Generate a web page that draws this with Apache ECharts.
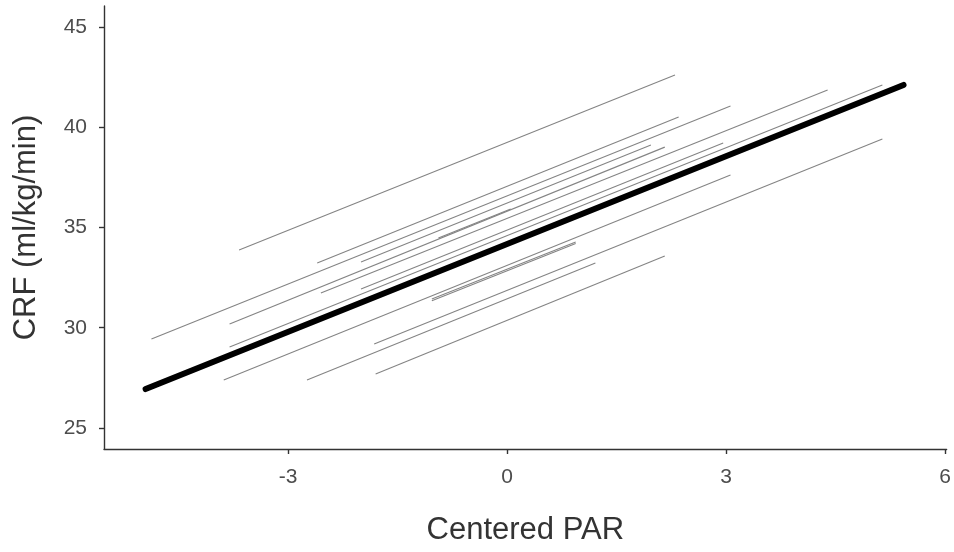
<!DOCTYPE html>
<html>
<head>
<meta charset="utf-8">
<title>CRF vs Centered PAR</title>
<script src="https://cdn.jsdelivr.net/npm/echarts@6/dist/echarts.min.js"></script>
<style>
    html, body { margin: 0; padding: 0; background: #fff; }
    #chart { width: 954px; height: 552px; }
</style>
</head>
<body>
<div id="chart"></div>
<script>
// tick labels
var xTicks = [-3, 0, 3, 6];
var yTicks = [25, 30, 35, 40, 45];

// individual (per-subject) lines: start and end points
var startX = [-3.67, -4.87, -2.60, -2.55, -2.00, -3.80, -2.00, -3.88, -3.80, -1.82, -1.80, -2.74, -1.03, -1.03, -0.94];
var startY = [33.88, 29.44, 33.23, 31.73, 33.28, 30.19, 31.93, 27.39, 29.04, 29.19, 27.69, 27.39, 31.43, 31.35, 34.48];
var endX   = [2.30, 3.06, 2.35, 4.39, 1.97, 2.16, 2.96, 3.06, 5.14, 5.14, 2.16, 1.21, 0.94, 0.94, 0.05];
var endY   = [42.61, 41.06, 40.51, 41.86, 39.11, 39.01, 39.21, 37.62, 42.11, 39.41, 33.58, 33.23, 34.28, 34.20, 35.92];

// overall (fixed effect) line
var fixedX = [-4.95, 5.43];
var fixedY = [26.94, 42.11];

var chart = echarts.init(document.getElementById('chart'));

var series = [];
//灰色的个体线
for (var i = 0; i < startX.length; i++) {
    series.push({
        type: 'line',
        data: [[startX[i], startY[i]], [endX[i], endY[i]]],
        symbol: 'none',
        silent: true,
        lineStyle: {color: '#848484', width: 1.1}
    });
}
//总体线
series.push({
    type: 'line',
    data: [[fixedX[0], fixedY[0]], [fixedX[1], fixedY[1]]],
    symbol: 'none',
    silent: true,
    lineStyle: {color: '#000', width: 6, cap: 'round'}
});

var font = "'Liberation Sans', Arial, sans-serif";
var tickFont = "'Liberation Sans Narrow', 'Arial Narrow', 'Liberation Sans', Arial, sans-serif";

var option = {
    animation: false,
    grid: {left: 104, top: 6, width: 845.5, height: 443},
    xAxis: {
        type: 'value',
        min: -5.52,
        max: 6.02,
        name: 'Centered PAR',
        nameLocation: 'middle',
        nameGap: 66,
        nameTextStyle: {fontFamily: font, fontSize: 31, color: '#333'},
        splitLine: {show: false},
        axisLine: {onZero: false, lineStyle: {color: '#333', width: 1.4}},
        axisTick: {show: true, length: 5, customValues: xTicks, lineStyle: {color: '#333', width: 1.4}},
        axisLabel: {customValues: xTicks, fontFamily: tickFont, fontSize: 21, color: '#4d4d4d', margin: 18}
    },
    yAxis: {
        type: 'value',
        min: 23.95,
        max: 46.05,
        name: 'CRF (ml/kg/min)',
        nameLocation: 'middle',
        nameGap: 62,
        nameTextStyle: {fontFamily: font, fontSize: 31, color: '#333'},
        splitLine: {show: false},
        axisLine: {show: true, onZero: false, lineStyle: {color: '#333', width: 1.4}},
        axisTick: {show: true, length: 5, customValues: yTicks, lineStyle: {color: '#333', width: 1.4}},
        axisLabel: {customValues: yTicks, fontFamily: tickFont, fontSize: 21, color: '#4d4d4d', margin: 17}
    },
    series: series
};

chart.setOption(option);
</script>
</body>
</html>
